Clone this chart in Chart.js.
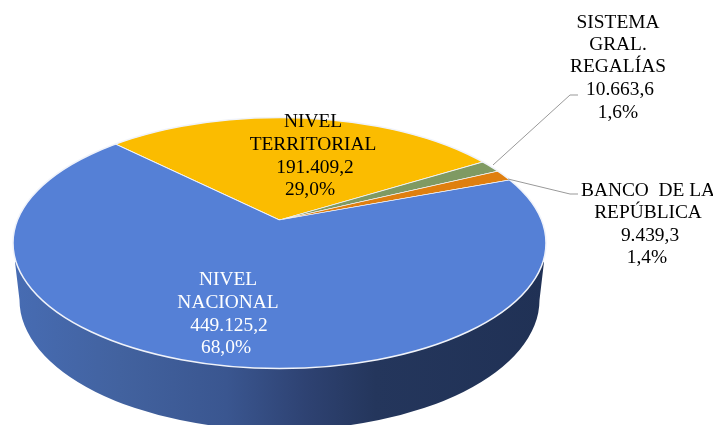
<!DOCTYPE html>
<html>
<head>
<meta charset="utf-8">
<script src="https://cdn.jsdelivr.net/npm/chart.js@4"></script>
<style>
  body { margin: 0; background: #fff; }
  canvas { display: block; }
</style>
</head>
<body>
<canvas id="pieChart" width="713" height="425"></canvas>
<script>
// Values, starting from the slice after the top-left cut
const categories = ["NIVEL TERRITORIAL", "SISTEMA GRAL. REGALÍAS", "BANCO DE LA REPÚBLICA", "NIVEL NACIONAL"];
const values = [191409.2, 10663.6, 9439.3, 449125.2];
const sliceColors = ["#FBBC00", "#7F9A63", "#DF7F0F", "#5580D6"];

const total = values.reduce((sum, v) => sum + v, 0);
const amountText = values.map((v) =>
  v.toLocaleString("de-DE", { minimumFractionDigits: 1, maximumFractionDigits: 1 })
);
const percentText = values.map((v) => ((v / total) * 100).toFixed(1).replace(".", ",") + "%");

// Label lines, each with its own centre and baseline middle
const labelLayout = [
  { color: "#000", lines: [["NIVEL", 313, 122], ["TERRITORIAL", 313, 145], [amountText[0], 315, 168], [percentText[0], 310, 190]] },
  { color: "#000", lines: [["SISTEMA", 618, 23], ["GRAL.", 618, 45], ["REGALÍAS", 618, 67], [amountText[1], 620, 90], [percentText[1], 618, 113]] },
  { color: "#000", lines: [["BANCO  DE LA", 648, 191], ["REPÚBLICA", 648, 213], [amountText[2], 650, 236], [percentText[2], 647, 258]] },
  { color: "#fff", lines: [["NIVEL", 228, 280], ["NACIONAL", 228, 303], [amountText[3], 229, 326], [percentText[3], 226, 348]] },
];
const leaderLines = [
  [[493, 165], [570, 95], [578, 95]],
  [[508, 179], [570, 194], [578, 194]],
];

// The pie is squashed and cut to an ellipse, the apex sits above its centre as in a perspective view
const tilt = 0.471;
const topFace = { dy: 23, rx: 266.5, ry: 125.5 };
const bottomFace = { dy: 80, rx: 260, ry: 130 };

const pie3d = {
  id: "pie3d",
  beforeDatasetsDraw(chart) {
    const ctx = chart.ctx;
    const arc = chart.getDatasetMeta(0).data[0];
    const cx = arc.x;
    const cy = arc.y;

    // side wall
    const wall = ctx.createLinearGradient(cx - topFace.rx, 0, cx + topFace.rx, 0);
    wall.addColorStop(0, "#476CB3");
    wall.addColorStop(0.2, "#42629F");
    wall.addColorStop(0.4, "#3A5690");
    wall.addColorStop(0.55, "#2E4272");
    wall.addColorStop(0.68, "#24365C");
    wall.addColorStop(1, "#203155");
    ctx.save();
    ctx.beginPath();
    ctx.ellipse(cx, cy + bottomFace.dy, bottomFace.rx, bottomFace.ry, 0, Math.PI, 0, true);
    ctx.lineTo(cx + topFace.rx - 2, cy + topFace.dy + 19);
    ctx.lineTo(cx - topFace.rx + 2, cy + topFace.dy + 19);
    ctx.closePath();
    ctx.fillStyle = wall;
    ctx.fill();
    ctx.restore();

    // top face
    ctx.save();
    ctx.beginPath();
    ctx.ellipse(cx, cy + topFace.dy, topFace.rx, topFace.ry, 0, 0, Math.PI * 2);
    ctx.clip();
    ctx.translate(cx, cy);
    ctx.scale(1, tilt);
    ctx.translate(-cx, -cy);
  },
  afterDatasetsDraw(chart) {
    const ctx = chart.ctx;
    const arc = chart.getDatasetMeta(0).data[0];
    ctx.restore();

    ctx.beginPath();
    ctx.ellipse(arc.x, arc.y + topFace.dy, topFace.rx, topFace.ry, 0, 0, Math.PI * 2);
    ctx.strokeStyle = "#F0F3FA";
    ctx.lineWidth = 1.5;
    ctx.stroke();
  },
  afterDraw(chart) {
    const ctx = chart.ctx;
    ctx.save();
    ctx.strokeStyle = "#999999";
    ctx.lineWidth = 1;
    leaderLines.forEach((points) => {
      ctx.beginPath();
      points.forEach((p, i) => (i ? ctx.lineTo(p[0], p[1]) : ctx.moveTo(p[0], p[1])));
      ctx.stroke();
    });
    ctx.font = '19.4px "Liberation Serif"';
    ctx.textAlign = "center";
    ctx.textBaseline = "middle";
    labelLayout.forEach((label) => {
      ctx.fillStyle = label.color;
      label.lines.forEach((line) => ctx.fillText(line[0], line[1], line[2]));
    });
    ctx.restore();
  },
};

new Chart(document.getElementById("pieChart"), {
  type: "pie",
  data: {
    labels: categories,
    datasets: [
      {
        data: values,
        backgroundColor: sliceColors,
        borderColor: "#F4F6FB",
        borderWidth: 1.5,
        clip: false,
      },
    ],
  },
  options: {
    responsive: false,
    animation: false,
    rotation: -45.5,
    radius: 340,
    layout: { padding: { left: 0, right: 154, top: 15, bottom: 0 } },
    plugins: {
      legend: { display: false },
      tooltip: { enabled: false },
    },
  },
  plugins: [pie3d],
});
</script>
</body>
</html>
